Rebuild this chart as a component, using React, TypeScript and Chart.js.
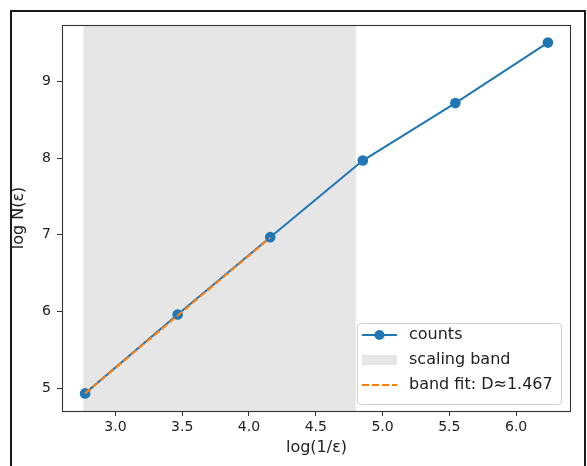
import React, { useEffect, useRef } from 'react';
import { Chart, registerables } from 'chart.js';

Chart.register(...registerables);

// ---- data ----
const logInvEps = [2.773, 3.466, 4.159, 4.852, 5.545, 6.238];
const logCounts = [4.93, 5.96, 6.97, 7.97, 8.72, 9.51];
const fitX = [2.773, 4.159];
const fitY = [4.93, 6.963];
const bandRange = [2.76, 4.8];
const xTickValues = [3.0, 3.5, 4.0, 4.5, 5.0, 5.5, 6.0];
const yTickValues = [5, 6, 7, 8, 9];
const xLimits = [2.6, 6.411];
const yLimits = [4.7, 9.74];
const legendLabels = ['counts', 'scaling band', 'band fit: D≈1.467'];
const xTitle = 'log(1/ε)';
const yTitle = 'log N(ε)';

const BLUE = '#1f77b4';
const ORANGE = '#ff7f0e';
const BAND = '#e6e6e6';
const FONT = '"DejaVu Sans", sans-serif';
const TEXT = '#222222';

const decorPlugin = {
  id: 'decor',
  beforeDatasetsDraw(chart: any) {
    const { ctx, chartArea, scales } = chart;
    const x0 = scales.x.getPixelForValue(bandRange[0]);
    const x1 = scales.x.getPixelForValue(bandRange[1]);
    ctx.save();
    ctx.fillStyle = BAND;
    ctx.fillRect(x0, chartArea.top, x1 - x0, chartArea.bottom - chartArea.top);
    ctx.restore();
  },
  afterDraw(chart: any) {
    const { ctx, chartArea } = chart;
    ctx.save();
    // plot frame
    ctx.strokeStyle = '#333333';
    ctx.lineWidth = 1.1;
    ctx.strokeRect(
      Math.round(chartArea.left) + 0.5,
      Math.round(chartArea.top) + 0.5,
      Math.round(chartArea.right - chartArea.left) - 1,
      Math.round(chartArea.bottom - chartArea.top)
    );
    // outer frame
    ctx.strokeStyle = '#1a1a1a';
    ctx.lineWidth = 2;
    ctx.strokeRect(11, 11, 574, 520);

    // legend
    const lx = 357.5, ly = 323.5, lw = 204, lh = 81;
    ctx.beginPath();
    ctx.roundRect(lx, ly, lw, lh, 3);
    ctx.fillStyle = 'rgba(255,255,255,0.8)';
    ctx.fill();
    ctx.strokeStyle = '#d0d0d0';
    ctx.lineWidth = 1;
    ctx.stroke();

    const hx0 = 362, hx1 = 397, tx = 409;
    const rows = [335, 360, 385];
    ctx.font = '16px ' + FONT;
    ctx.fillStyle = TEXT;
    ctx.textBaseline = 'middle';
    ctx.textAlign = 'left';
    legendLabels.forEach((t, i) => ctx.fillText(t, tx, rows[i]));

    // counts handle
    ctx.strokeStyle = BLUE;
    ctx.lineWidth = 2;
    ctx.beginPath();
    ctx.moveTo(hx0, rows[0]);
    ctx.lineTo(hx1, rows[0]);
    ctx.stroke();
    ctx.fillStyle = BLUE;
    ctx.beginPath();
    ctx.arc((hx0 + hx1) / 2, rows[0], 5, 0, Math.PI * 2);
    ctx.fill();
    // band handle
    ctx.fillStyle = BAND;
    ctx.fillRect(hx0, rows[1] - 5, hx1 - hx0, 10);
    // fit handle
    ctx.strokeStyle = ORANGE;
    ctx.setLineDash([7, 3]);
    ctx.beginPath();
    ctx.moveTo(hx0, rows[2]);
    ctx.lineTo(hx1, rows[2]);
    ctx.stroke();
    ctx.restore();
  },
};

export default function App() {
  const ref = useRef<HTMLCanvasElement | null>(null);
  useEffect(() => {
    if (!ref.current) return;
    const chart = new Chart(ref.current, {
      type: 'scatter',
      data: {
        datasets: [
          {
            label: legendLabels[2],
            data: fitX.map((x, i) => ({ x, y: fitY[i] })),
            showLine: true,
            borderColor: ORANGE,
            borderWidth: 2,
            borderDash: [7, 3],
            pointRadius: 0,
            order: 0,
          },
          {
            label: legendLabels[0],
            data: logInvEps.map((x, i) => ({ x, y: logCounts[i] })),
            showLine: true,
            borderColor: BLUE,
            backgroundColor: BLUE,
            borderWidth: 2,
            pointRadius: 5.3,
            pointBorderWidth: 0,
            order: 1,
          },
        ],
      },
      options: {
        responsive: false,
        animation: false,
        layout: { padding: { top: 25, right: 16, left: 0, bottom: 0 } },
        plugins: { legend: { display: false }, tooltip: { enabled: false } },
        scales: {
          x: {
            type: 'linear',
            min: xLimits[0],
            max: xLimits[1],
            afterBuildTicks: (s: any) => {
              s.ticks = xTickValues.map((v) => ({ value: v }));
            },
            afterFit: (s: any) => {
              s.height = 55;
            },
            ticks: {
              callback: (v: any) => Number(v).toFixed(1),
              font: { family: FONT, size: 14 },
              color: TEXT,
              padding: 3,
              maxRotation: 0,
              autoSkip: false,
            },
            grid: { drawOnChartArea: false, tickLength: 5, color: '#333333', lineWidth: 1 },
            border: { display: false },
            title: {
              display: true,
              text: xTitle,
              font: { family: FONT, size: 16 },
              color: TEXT,
              padding: { top: 0, bottom: 8.4 },
            },
          },
          y: {
            type: 'linear',
            min: yLimits[0],
            max: yLimits[1],
            afterBuildTicks: (s: any) => {
              s.ticks = yTickValues.map((v) => ({ value: v }));
            },
            afterFit: (s: any) => {
              s.width = 62;
            },
            ticks: {
              callback: (v: any) => String(v),
              font: { family: FONT, size: 14 },
              color: TEXT,
              padding: 6,
              autoSkip: false,
            },
            grid: { drawOnChartArea: false, tickLength: 5, color: '#333333', lineWidth: 1 },
            border: { display: false },
            title: {
              display: true,
              text: yTitle,
              font: { family: FONT, size: 16 },
              color: TEXT,
              padding: { top: 9, bottom: 0 },
            },
          },
        },
      },
      plugins: [decorPlugin],
    } as any);
    return () => chart.destroy();
  }, []);
  return (
    <div style={{ position: 'fixed', left: 0, top: 0, width: 587, height: 466, background: '#fff' }}>
      <canvas ref={ref} width={587} height={466} style={{ display: 'block' }} />
    </div>
  );
}
